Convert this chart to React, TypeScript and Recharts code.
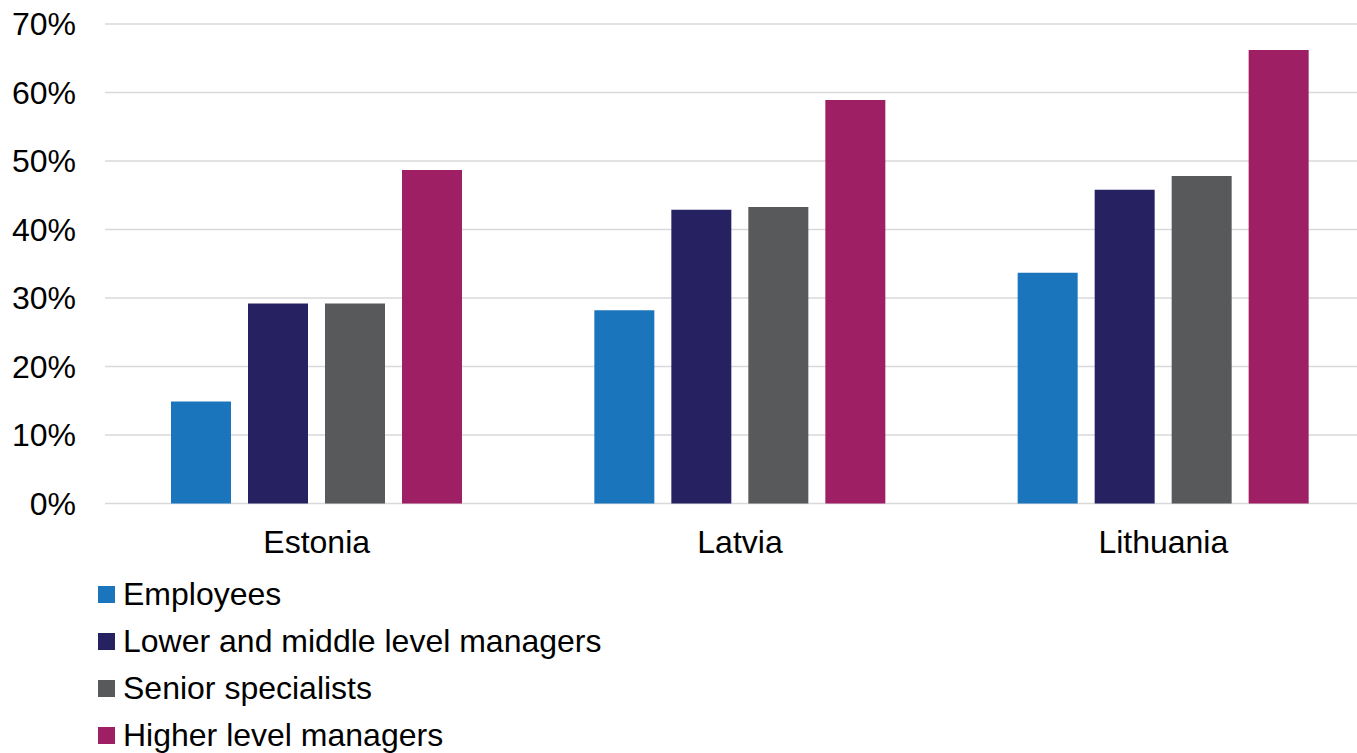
import React from "react";
import { BarChart, Bar, XAxis, YAxis, CartesianGrid, Legend } from "recharts";

const categories = ["Estonia", "Latvia", "Lithuania"];
const employees = [14.9, 28.2, 33.7];
const lowerMiddleManagers = [29.2, 42.9, 45.8];
const seniorSpecialists = [29.2, 43.3, 47.8];
const higherManagers = [48.7, 58.9, 66.2];
const yTicks = [0, 10, 20, 30, 40, 50, 60, 70];

const seriesNames = [
  "Employees",
  "Lower and middle level managers",
  "Senior specialists",
  "Higher level managers",
];
const seriesColors = ["#1b75bc", "#262262", "#58595b", "#9e1f63"];
const seriesKeys = ["employees", "lower", "senior", "higher"];

const data = categories.map((c, i) => ({
  name: c,
  employees: employees[i],
  lower: lowerMiddleManagers[i],
  senior: seniorSpecialists[i],
  higher: higherManagers[i],
}));

const FONT = "'Liberation Sans', Arial, sans-serif";

const LegendContent = () => {
  return (
    <div style={{ fontFamily: FONT, fontSize: 32, color: "#000" }}>
      {seriesNames.map((name, i) => (
        <div
          key={name}
          style={{ display: "flex", alignItems: "center", height: 47, lineHeight: "47px", whiteSpace: "nowrap" }}
        >
          <span style={{ display: "inline-block", width: 17, height: 17, background: seriesColors[i], marginRight: 8 }} />
          <span>{name}</span>
        </div>
      ))}
    </div>
  );
};

export default function App() {
  return (
    <div style={{ position: "absolute", left: 0, top: 0, width: 1357, height: 753, overflow: "hidden", background: "#fff" }}>
      <BarChart
        width={1380}
        height={753}
        data={data}
        margin={{ top: 24, right: 5, left: 0, bottom: 209.5 }}
        barGap={17}
      >
        <CartesianGrid vertical={false} stroke="#d9d9d9" strokeWidth={1.5} />
        <XAxis
          dataKey="name"
          height={40}
          axisLine={false}
          tickLine={false}
          tickSize={0}
          tickMargin={27}
          tick={{ fill: "#000", fontSize: 32, fontFamily: FONT }}
        />
        <YAxis
          width={105}
          domain={[0, 70]}
          ticks={yTicks}
          interval={0}
          axisLine={false}
          tickLine={false}
          tickSize={0}
          tickMargin={29}
          tickFormatter={(v: number) => `${v}%`}
          tick={{ fill: "#000", fontSize: 32, fontFamily: FONT }}
        />
        <Legend
          layout="horizontal"
          align="center"
          verticalAlign="middle"
          wrapperStyle={{ left: 98, top: 571, width: 700 }}
          content={<LegendContent />}
        />
        {seriesKeys.map((k, i) => (
          <Bar
            key={k}
            dataKey={k}
            name={seriesNames[i]}
            fill={seriesColors[i]}
            barSize={60}
            isAnimationActive={false}
          />
        ))}
      </BarChart>
    </div>
  );
}
